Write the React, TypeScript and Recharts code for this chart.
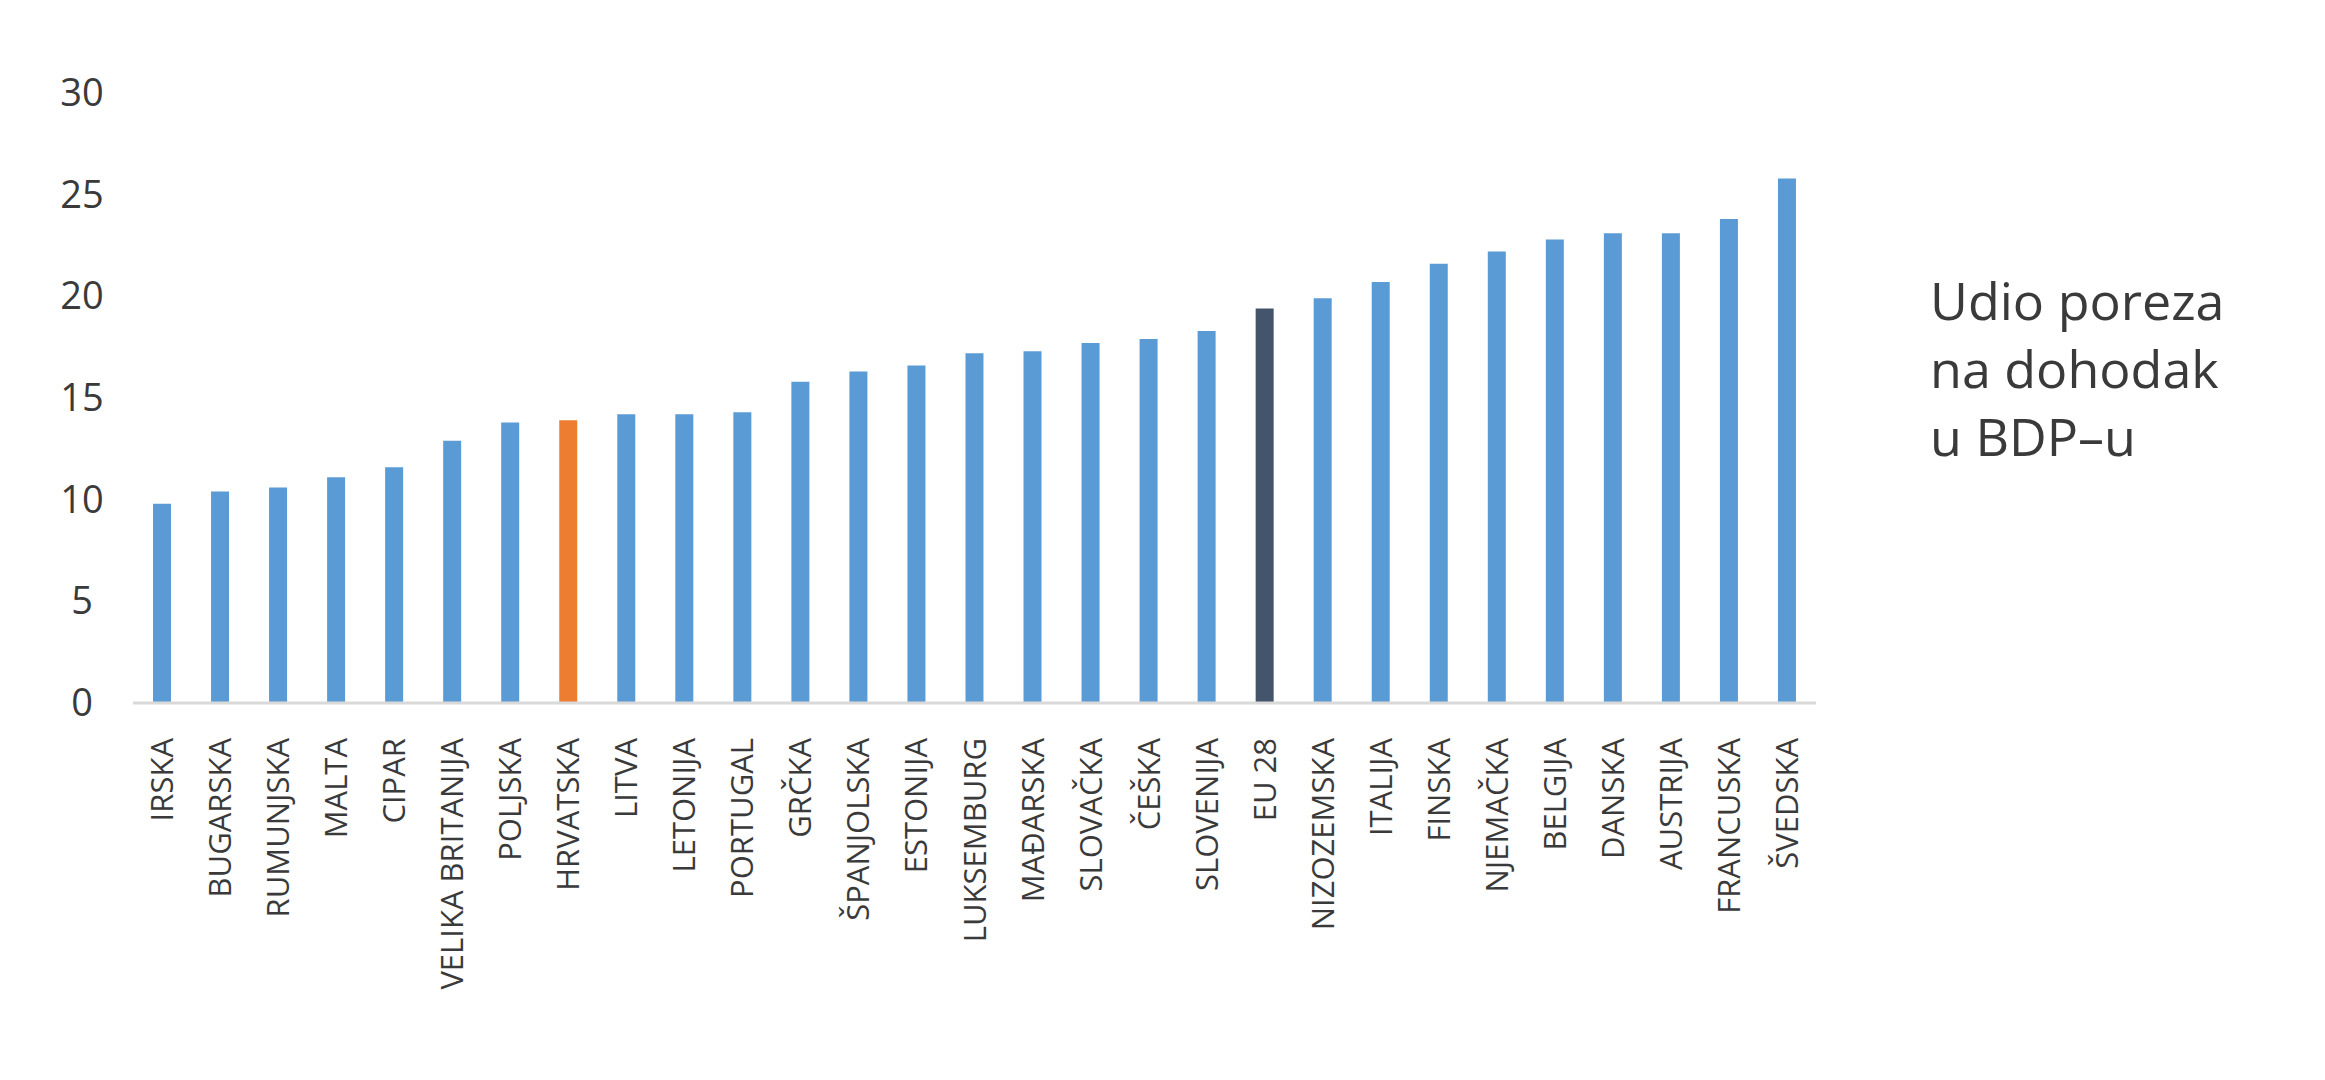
import { Bar, BarChart, Cell, XAxis, YAxis } from "recharts"

const countries = [
  "IRSKA", "BUGARSKA", "RUMUNJSKA", "MALTA", "CIPAR", "VELIKA BRITANIJA", "POLJSKA",
  "HRVATSKA", "LITVA", "LETONIJA", "PORTUGAL", "GRČKA", "ŠPANJOLSKA", "ESTONIJA",
  "LUKSEMBURG", "MAĐARSKA", "SLOVAČKA", "ČEŠKA", "SLOVENIJA", "EU 28", "NIZOZEMSKA",
  "ITALIJA", "FINSKA", "NJEMAČKA", "BELGIJA", "DANSKA", "AUSTRIJA", "FRANCUSKA", "ŠVEDSKA",
]

const shares = [
  9.8, 10.4, 10.6, 11.1, 11.6, 12.9, 13.8,
  13.9, 14.2, 14.2, 14.3, 15.8, 16.3, 16.6,
  17.2, 17.3, 17.7, 17.9, 18.3, 19.4, 19.9,
  20.7, 21.6, 22.2, 22.8, 23.1, 23.1, 23.8, 25.8,
]

const yTicks = [0, 5, 10, 15, 20, 25, 30]

const titleLines = ["Udio poreza", "na dohodak", "u BDP–u"]

const data = countries.map((name, i) => ({ name, value: shares[i] }))

const barColor = (name: string) => {
  if (name === "HRVATSKA") return "#ED7D31"
  if (name === "EU 28") return "#44546A"
  return "#5B9BD5"
}

const textColor = "#3a3a3a"

function YTick(props: any) {
  const { y, payload } = props
  return (
    <text x={82} y={y} dy={13} textAnchor="middle" fontSize={38} fill={textColor} fontFamily="Open Sans">
      {payload.value}
    </text>
  )
}

function XTick(props: any) {
  const { x, payload } = props
  // rotated label, its end sits just under the axis line
  return (
    <text
      transform={`translate(${x + 11}, 738) rotate(-90)`}
      x={0}
      y={0}
      textAnchor="end"
      fontSize={31}
      fill={textColor}
      fontFamily="Open Sans"
    >
      {payload.value}
    </text>
  )
}

export default function App() {
  return (
    <div style={{ position: "absolute", left: 0, top: 0, width: 2325, height: 1080, background: "#fff" }}>
      <BarChart
        width={2325}
        height={1080}
        data={data}
        margin={{ top: 93, right: 509, bottom: 77, left: 0 }}
        barSize={18}
      >
        <XAxis
          dataKey="name"
          interval={0}
          height={300}
          tickLine={false}
          axisLine={{ stroke: "#d9d9d9", strokeWidth: 3 }}
          tick={<XTick />}
        />
        <YAxis
          width={133}
          domain={[0, 30]}
          ticks={yTicks}
          axisLine={false}
          tickLine={false}
          tick={<YTick />}
        />
        <Bar dataKey="value" isAnimationActive={false}>
          {data.map((d) => (
            <Cell key={d.name} fill={barColor(d.name)} />
          ))}
        </Bar>
      </BarChart>
      <div
        style={{
          position: "absolute",
          left: 1930,
          top: 266,
          fontFamily: "Open Sans",
          fontSize: 52,
          lineHeight: "68px",
          color: textColor,
        }}
      >
        {titleLines.map((line) => (
          <div key={line}>{line}</div>
        ))}
      </div>
    </div>
  )
}
